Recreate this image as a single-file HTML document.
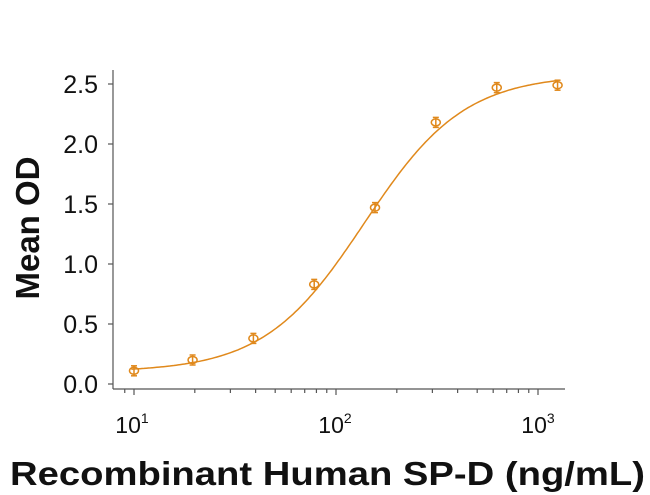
<!DOCTYPE html><html><head><style>body{margin:0;background:#fff}svg{display:block}text{font-family:"Liberation Sans",Arial,sans-serif}</style></head><body>
<svg id="s" width="650" height="495" xmlns="http://www.w3.org/2000/svg">
<g stroke="#555" stroke-width="1.2" fill="none">
<line x1="113" y1="70" x2="113" y2="389"/>
<line x1="113" y1="389" x2="565" y2="389"/>
</g>
<g id="ticks" stroke="#555" stroke-width="1.2"></g>
<g font-size="25" fill="#111" text-anchor="end">
<text x="98" y="393">0.0</text><text x="98" y="333">0.5</text><text x="98" y="273">1.0</text><text x="98" y="213">1.5</text><text x="98" y="153">2.0</text><text x="98" y="93">2.5</text>
</g>
<g font-size="23" fill="#111" text-anchor="middle">
<text x="132" y="433">10<tspan font-size="14" dy="-10">1</tspan></text>
<text x="335" y="433">10<tspan font-size="14" dy="-10">2</tspan></text>
<text x="538" y="433">10<tspan font-size="14" dy="-10">3</tspan></text>
</g>
<text x="10" y="485" font-size="33" font-weight="bold" fill="#111" textLength="635" lengthAdjust="spacingAndGlyphs">Recombinant Human SP-D (ng/mL)</text>
<text transform="translate(39,228) rotate(-90)" font-size="33" font-weight="bold" text-anchor="middle" fill="#111">Mean OD</text>
<path id="curve" fill="none" stroke="#e0891c" stroke-width="1.5"/>
<g id="pts" stroke="#e0891c" stroke-width="1.5" fill="none"></g>
</svg>
<script>
var X=c=>134+202*Math.log10(c/10),Y=v=>384-120*v;
var t='';
for(var v=0;v<=2.5;v+=0.5)t+='<line x1="108" x2="113" y1="'+Y(v)+'" y2="'+Y(v)+'"/>';
for(var d=1;d<=1000;d*=10)for(var k=1;k<10;k++){var c=d*k;var x=X(c);if(x<115||x>565)continue;t+='<line x1="'+x+'" x2="'+x+'" y1="389" y2="'+(k==1?395:393)+'"/>';}
document.getElementById('ticks').innerHTML=t;
var f=c=>0.1+2.48/(1+Math.pow(138/c,1.75));
var p='';for(var i=0;i<=200;i++){var c=10*Math.pow(10,i*2.11/200)*0.97;p+=(i?'L':'M')+X(c).toFixed(1)+' '+Y(f(c)).toFixed(1);}
document.getElementById('curve').setAttribute('d',p);
var data=[[10,0.11],[19.5,0.2],[39,0.38],[78,0.83],[156,1.47],[312,2.18],[625,2.47],[1250,2.49]];
var s='';data.forEach(function(d){var x=X(d[0]),y=Y(d[1]);s+='<ellipse cx="'+x+'" cy="'+y+'" rx="4.5" ry="3.5"/><line x1="'+x+'" x2="'+x+'" y1="'+(y-5)+'" y2="'+(y+5)+'"/><line x1="'+(x-3)+'" x2="'+(x+3)+'" y1="'+(y-5)+'" y2="'+(y-5)+'"/><line x1="'+(x-3)+'" x2="'+(x+3)+'" y1="'+(y+5)+'" y2="'+(y+5)+'"/>';});
document.getElementById('pts').innerHTML=s;
</script>
</body></html>
